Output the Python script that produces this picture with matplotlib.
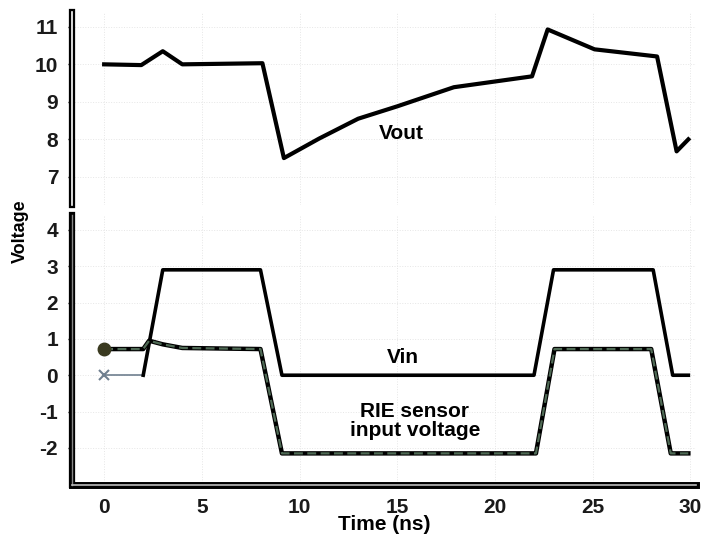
import matplotlib.pyplot as plt

plt.rcParams['font.family'] = ['Liberation Sans', 'DejaVu Sans']
plt.rcParams['font.weight'] = 'bold'
plt.rcParams['axes.unicode_minus'] = False

# Vout (upper panel)
t_out = [0, 1.9, 3.0, 4.0, 8.1, 9.2, 11, 13, 15, 17.9, 21.9, 22.7, 25.1, 28.3, 29.3, 29.9]
v_out = [10.0, 9.98, 10.35, 10.0, 10.03, 7.5, 8.02, 8.55, 8.88, 9.39, 9.68, 10.93, 10.4, 10.21, 7.68, 8.0]

# Vin (lower panel, solid)
t_in = [0, 2.0, 3.0, 8.0, 9.1, 22.0, 23.0, 28.1, 29.1, 29.9]
v_in = [0, 0, 2.9, 2.9, 0, 0, 2.9, 2.9, 0, 0]

# RIE sensor input voltage (lower panel, dashed)
t_rie = [0, 2.0, 2.3, 3.0, 4.0, 8.0, 9.1, 22.1, 23.05, 28.0, 29.0, 29.9]
v_rie = [0.72, 0.72, 0.95, 0.85, 0.75, 0.72, -2.15, -2.15, 0.72, 0.72, -2.15, -2.15]

xticks = [0, 5, 10, 15, 20, 25, 30]
yticks_top = [7, 8, 9, 10, 11]
yticks_bot = [-2, -1, 0, 1, 2, 3, 4]

fig = plt.figure(figsize=(7.14, 5.38), dpi=100)
ax1 = fig.add_axes([0.101, 0.619, 0.874, 0.359])
ax2 = fig.add_axes([0.101, 0.0985, 0.874, 0.502])

for ax in (ax1, ax2):
    ax.set_xlim(-1.64, 30.3)
    ax.set_xticks(xticks)
    ax.grid(True, color='#e6e6e6', linestyle=':', linewidth=0.7)
    ax.spines['top'].set_visible(False)
    ax.spines['right'].set_visible(False)
    ax.tick_params(axis='y', length=3, width=1, pad=7, labelsize=15, labelcolor='#1a1a1a')
    ax.tick_params(axis='x', length=0, pad=9, labelsize=15, labelcolor='#1a1a1a')

# upper panel
ax1.set_ylim(6.25, 11.4)
ax1.set_yticks(yticks_top)
ax1.tick_params(axis='x', labelbottom=False)
ax1.spines['bottom'].set_visible(False)
ax1.spines['left'].set_linewidth(4.5)
ax1.plot([0, 0], [0, 1], transform=ax1.transAxes, color='white', lw=1.2,
         clip_on=False, zorder=3)
ax1.plot(t_out, v_out, color='black', lw=3, solid_joinstyle='round')
ax1.text(15.2, 8.15, 'Vout', fontsize=15, ha='center', va='center')

# lower panel
ax2.set_ylim(-3.02, 4.41)
ax2.set_yticks(yticks_bot)
ax2.spines['left'].set_linewidth(4.5)
ax2.spines['bottom'].set_linewidth(5)
ax2.plot([0, 0], [0, 1], transform=ax2.transAxes, color='#888888', lw=1,
         clip_on=False, zorder=3)
ax2.plot([0, 1], [0, 0], transform=ax2.transAxes, color='#bbbbbb', lw=1.2,
         clip_on=False, zorder=3)

ax2.plot(t_in[:2], v_in[:2], color='#6f7f8f', lw=1.2, zorder=4)
ax2.plot(t_in[0], v_in[0], marker='x', color='#6f7f8f', ms=7, mew=1.5, zorder=4)
ax2.plot(t_in[1:], v_in[1:], color='black', lw=2.6, zorder=4)

ax2.plot(t_rie, v_rie, color='black', lw=3.2, zorder=5)
ax2.plot(t_rie, v_rie, color='#4f6a55', lw=1.6, dashes=(4, 2), zorder=6)
ax2.plot(t_rie[0], v_rie[0], marker='o', color='#3a3a20', ms=9, zorder=7)

ax2.text(15.3, 0.5, 'Vin', fontsize=15, ha='center', va='center')
ax2.text(15.9, -1.25, 'RIE sensor\ninput voltage', fontsize=15, ha='center',
         va='center', linespacing=1.0)

ax2.set_xlabel('Time (ns)', fontsize=15, fontweight='bold', labelpad=-1)
fig.text(0.028, 0.57, 'Voltage', rotation=90, fontsize=13, fontweight='bold',
         ha='center', va='center')

fig.savefig('out.png', dpi=100)
